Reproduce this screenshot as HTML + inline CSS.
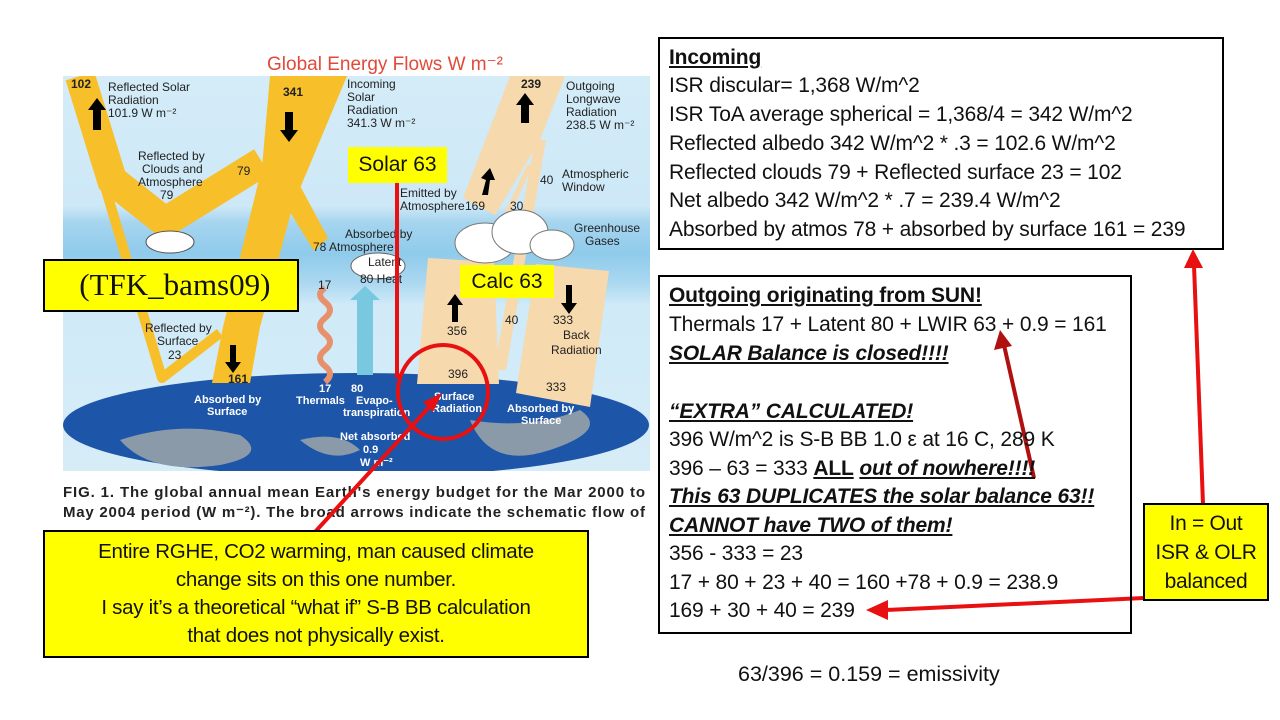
<!DOCTYPE html>
<html><head><meta charset="utf-8"><style>
body{margin:0;width:1280px;height:720px;background:#fff;position:relative;overflow:hidden;font-family:"Liberation Sans",sans-serif}
.box{position:absolute;border:2.5px solid #000;background:#fff;box-sizing:border-box}
.t{position:absolute;left:9px;font-size:21px;color:#111;white-space:nowrap;line-height:24px;letter-spacing:-0.15px}
.bi{font-weight:bold;font-style:italic;text-decoration:underline}
.y{position:absolute;background:#ffff00;border:2.5px solid #000;box-sizing:border-box;text-align:center;color:#111}
</style></head><body>
<svg width="1280" height="720" style="position:absolute;left:0;top:0">
<defs>
<linearGradient id="sky" x1="0" y1="0" x2="0" y2="1">
<stop offset="0" stop-color="#d4ecf8"/><stop offset="0.33" stop-color="#cde8f7"/><stop offset="0.37" stop-color="#a6d5ef"/><stop offset="0.45" stop-color="#8fcbeb"/><stop offset="0.52" stop-color="#a9d7f0"/><stop offset="0.58" stop-color="#d0eaf8"/><stop offset="1" stop-color="#d6edf8"/>
</linearGradient>
<clipPath id="pic"><rect x="63" y="76" width="587" height="395"/></clipPath>
</defs>
<text x="385" y="70" fill="#e04a3a" font-size="19" text-anchor="middle">Global Energy Flows  W m⁻²</text>
<g clip-path="url(#pic)">
<rect x="63" y="76" width="587" height="395" fill="url(#sky)"/>
<ellipse cx="356" cy="425" rx="293" ry="52" fill="#1d55a8"/>
<path d="M120 440 q60 -20 120 -5 q30 20 -20 30 q-70 10 -100 -25z M470 420 q60 10 110 -10 q30 20 -30 40 q-60 20 -80 -30z M300 440 q40 -10 60 10 q-30 15 -60 -10z" fill="#8a9aa8"/>
<!-- left yellow flows -->
<path d="M80 76 L112 180 L165 222 L262 162" stroke="#f7bf2a" stroke-width="30" fill="none" stroke-linejoin="miter"/>
<path d="M103 180 L162 378 L220 333" stroke="#f7bf2a" stroke-width="10" fill="none" stroke-linejoin="round"/>
<polygon points="270,76 347,76 293,205 260,327 250,383 212,383 223,327 262,167" fill="#f7bf2a"/>
<polygon points="290,212 298,182 328,238 314,251" fill="#f7bf2a"/>
<!-- right beige flows -->
<polygon points="510,76 565,76 540,140 495,215 463,198" fill="#f6d9ad"/>
<polygon points="535,140 546,140 506,370 494,370" fill="#f6d9ad"/>
<polygon points="527,165 533,165 505,225 499,225" fill="#f6d9ad"/>
<polygon points="428,258 494,262 499,384 417,384" fill="#f6d9ad"/>
<polygon points="536,264 609,271 590,407 516,393" fill="#f6d9ad"/>
<!-- clouds -->
<ellipse cx="170" cy="242" rx="24" ry="11" fill="#fff" stroke="#555"/>
<g fill="#fff" stroke="#777">
<ellipse cx="485" cy="243" rx="30" ry="20"/><ellipse cx="520" cy="232" rx="28" ry="22"/><ellipse cx="552" cy="245" rx="22" ry="15"/>
</g>
<ellipse cx="378" cy="266" rx="27" ry="13" fill="#fff" stroke="#666"/>
<path d="M325 382 q10 -8 0 -16 q-10 -8 0 -16 q10 -8 0 -16 q-10 -8 0 -16 q10 -8 0 -16 q-10 -8 0 -14" stroke="#e8906c" stroke-width="6" fill="none"/>
<rect x="357" y="300" width="16" height="75" fill="#78c8e0"/>
<polygon points="350,300 365,286 380,300" fill="#78c8e0"/>
</g>
<g fill="#000">
<polygon points="93,130 101,130 101,110 106,110 97,98 88,110 93,110"/>
<polygon points="285,112 293,112 293,130 298,130 289,142 280,130 285,130"/>
<polygon points="521,123 529,123 529,105 534,105 525,93 516,105 521,105"/>
<polygon points="230,345 236,345 236,362 241,362 233,373 225,362 230,362"/>
<polygon points="452,322 458,322 458,305 463,305 455,294 447,305 452,305"/>
<polygon points="566,285 572,285 572,303 577,303 569,314 561,303 566,303"/>
<polygon points="482,195 488,195 490,180 495,180 490,168 481,178 486,180"/>
</g>
<g font-size="12" font-weight="bold" fill="#222">
<text x="71" y="88">102</text><text x="283" y="96">341</text><text x="521" y="88">239</text>
<text x="108" y="91" font-weight="normal">Reflected Solar</text><text x="108" y="104" font-weight="normal">Radiation</text><text x="108" y="117" font-weight="normal">101.9 W m⁻²</text>
<text x="347" y="88" font-weight="normal">Incoming</text><text x="347" y="101" font-weight="normal">Solar</text><text x="347" y="114" font-weight="normal">Radiation</text><text x="347" y="127" font-weight="normal">341.3 W m⁻²</text>
<text x="566" y="90" font-weight="normal">Outgoing</text><text x="566" y="103" font-weight="normal">Longwave</text><text x="566" y="116" font-weight="normal">Radiation</text><text x="566" y="129" font-weight="normal">238.5 W m⁻²</text>
<text x="138" y="160" font-weight="normal">Reflected by</text><text x="142" y="173" font-weight="normal">Clouds and</text><text x="138" y="186" font-weight="normal">Atmosphere</text><text x="160" y="199" font-weight="normal">79</text><text x="237" y="175" font-weight="normal">79</text>
<text x="562" y="178" font-weight="normal">Atmospheric</text><text x="540" y="184" font-weight="normal">40</text><text x="562" y="191" font-weight="normal">Window</text>
<text x="400" y="197" font-weight="normal">Emitted by</text><text x="400" y="210" font-weight="normal">Atmosphere</text><text x="465" y="210" font-weight="normal">169</text><text x="510" y="210" font-weight="normal">30</text>
<text x="345" y="238" font-weight="normal">Absorbed by</text><text x="313" y="251" font-weight="normal">78 Atmosphere</text>
<text x="574" y="232" font-weight="normal">Greenhouse</text><text x="585" y="245" font-weight="normal">Gases</text>
<text x="318" y="289" font-weight="normal">17</text><text x="368" y="266" font-weight="normal">Latent</text><text x="360" y="283" font-weight="normal">80 Heat</text>
<text x="145" y="332" font-weight="normal">Reflected by</text><text x="157" y="345" font-weight="normal">Surface</text><text x="168" y="359" font-weight="normal">23</text>
<text x="447" y="335" font-weight="normal">356</text><text x="505" y="324" font-weight="normal">40</text><text x="553" y="324" font-weight="normal">333</text><text x="563" y="339" font-weight="normal">Back</text><text x="551" y="354" font-weight="normal">Radiation</text>
<text x="228" y="383">161</text><text x="448" y="378" font-weight="normal">396</text><text x="546" y="391" font-weight="normal">333</text>
</g>
<g font-size="11" font-weight="bold" fill="#fff">
<text x="194" y="403">Absorbed by</text><text x="207" y="415">Surface</text>
<text x="319" y="392">17</text><text x="351" y="392">80</text>
<text x="296" y="404">Thermals</text><text x="356" y="404">Evapo-</text><text x="343" y="416">transpiration</text>
<text x="434" y="400">Surface</text><text x="432" y="412">Radiation</text>
<text x="507" y="412">Absorbed by</text><text x="521" y="424">Surface</text>
<text x="340" y="440">Net absorbed</text><text x="363" y="453">0.9</text><text x="360" y="466">W m⁻²</text>
</g>
<g font-size="15" font-weight="bold" fill="#222">
<text x="63" y="497" textLength="582">FIG. 1. The global annual mean Earth's energy budget for the Mar 2000 to</text>
<text x="63" y="517" textLength="582">May 2004 period (W m⁻²). The broad arrows indicate the schematic flow of</text>
</g>
<line x1="397" y1="182" x2="397" y2="378" stroke="#e81010" stroke-width="4"/>
<ellipse cx="443" cy="392" rx="45" ry="47" fill="none" stroke="#e81010" stroke-width="4"/>
<line x1="315" y1="532" x2="432" y2="404" stroke="#e81010" stroke-width="4"/>
<polygon points="442,393 423,402 433,412" fill="#e81010"/>
<line x1="1034" y1="478" x2="1004" y2="345" stroke="#b01010" stroke-width="4"/>
<polygon points="1000,330 994,350 1012,346" fill="#b01010"/>
<line x1="1145" y1="598" x2="885" y2="610" stroke="#e81010" stroke-width="4"/>
<polygon points="866,610 888,600 888,620" fill="#e81010"/>
<line x1="1203" y1="504" x2="1194" y2="265" stroke="#e81010" stroke-width="4"/>
<polygon points="1193,249 1184,268 1203,268" fill="#e81010"/>
</svg>

<div class="box" style="left:658px;top:37px;width:566px;height:213px">
<div class="t" style="top:7px;font-weight:bold;text-decoration:underline">Incoming</div>
<div class="t" style="top:35px">ISR discular= 1,368 W/m^2</div>
<div class="t" style="top:64px">ISR ToA average spherical = 1,368/4 = 342 W/m^2</div>
<div class="t" style="top:93px">Reflected albedo 342 W/m^2 * .3 = 102.6 W/m^2</div>
<div class="t" style="top:122px">Reflected clouds 79 + Reflected surface 23 = 102</div>
<div class="t" style="top:150px">Net albedo 342 W/m^2 * .7 = 239.4 W/m^2</div>
<div class="t" style="top:179px">Absorbed by atmos 78 + absorbed by surface 161 = 239</div>
</div>
<div class="box" style="left:658px;top:275px;width:474px;height:359px;background:transparent">
<div class="t" style="top:7px;font-weight:bold;text-decoration:underline">Outgoing originating from SUN!</div>
<div class="t" style="top:36px">Thermals 17 + Latent 80 + LWIR 63 + 0.9 = 161</div>
<div class="t bi" style="top:65px">SOLAR Balance is closed!!!!</div>
<div class="t bi" style="top:123px">“EXTRA” CALCULATED!</div>
<div class="t" style="top:151px">396 W/m^2 is S-B BB 1.0 ε at 16 C, 289 K</div>
<div class="t" style="top:180px">396 – 63 = 333 <b><u>ALL</u></b> <span class="bi">out of nowhere!!!!</span></div>
<div class="t bi" style="top:208px">This 63 DUPLICATES the solar balance 63!!</div>
<div class="t bi" style="top:237px">CANNOT have TWO of them!</div>
<div class="t" style="top:265px">356 - 333 = 23</div>
<div class="t" style="top:294px">17 + 80 + 23 + 40 = 160 +78 + 0.9 = 238.9</div>
<div class="t" style="top:322px">169 + 30 + 40 = 239</div>
</div>
<div style="position:absolute;left:738px;top:662px;font-size:21.5px;color:#111">63/396 = 0.159 = emissivity</div>

<div class="y" style="left:43px;top:259px;width:256px;height:53px;font-family:'Liberation Serif',serif;font-size:31px;line-height:48px">&nbsp;(TFK_bams09)</div>
<div class="y" style="left:348px;top:147px;width:99px;height:36px;border:none;font-size:21px;line-height:36px">Solar 63</div>
<div class="y" style="left:460px;top:265px;width:94px;height:33px;border:none;font-size:21px;line-height:33px">Calc 63</div>
<div class="y" style="left:43px;top:530px;width:546px;height:128px;font-size:20.5px;line-height:28px;padding-top:6px;letter-spacing:-0.3px">Entire RGHE, CO2 warming, man caused climate<br>change sits on this one number.<br>I say it’s a theoretical “what if”  S-B BB calculation<br>that does not physically exist.</div>
<div class="y" style="left:1143px;top:503px;width:126px;height:98px;font-size:21px;line-height:29px;padding-top:4px;letter-spacing:-0.3px">In = Out<br>ISR &amp; OLR<br>balanced</div>
</body></html>
